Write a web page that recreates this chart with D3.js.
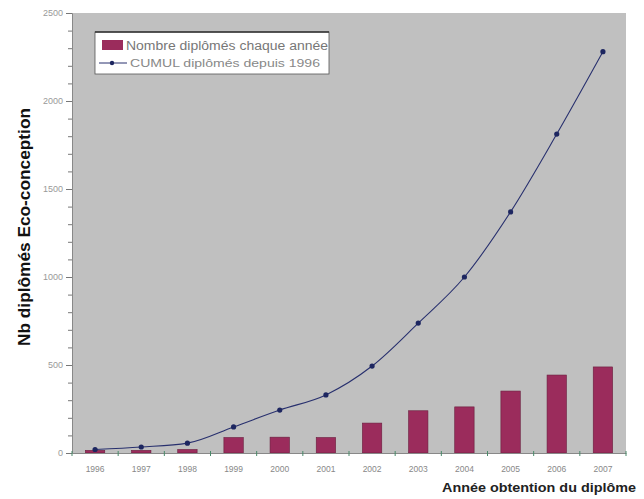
<!DOCTYPE html>
<html><head><meta charset="utf-8">
<script src="https://cdn.jsdelivr.net/npm/d3@7"></script>
<style>body{margin:0;background:#fff;}svg{display:block;font-family:Arial,"Liberation Sans",sans-serif;}</style>
</head><body><svg id="c" width="644" height="499"></svg>
<script>
const years = ["1996","1997","1998","1999","2000","2001","2002","2003","2004","2005","2006","2007"];
const perYear = [15, 15, 20, 88, 90, 88, 170, 240, 262, 352, 443, 489];
const cumul = [20, 34, 56, 148, 244, 330, 494, 738, 1000, 1370, 1812, 2280];
const yTicks = [0, 500, 1000, 1500, 2000, 2500];
const legendLabels = ["Nombre diplômés chaque année", "CUMUL diplômés depuis 1996"];
const yTitle = "Nb diplômés Eco-conception";
const xTitle = "Année obtention du diplôme";

const m = {left:72, top:13, right:626, bottom:453};
const svg = d3.select("#c");
const x = d3.scaleBand().domain(years).range([m.left, m.right]).paddingInner(0.58).paddingOuter(0.29);
const xp = d3.scalePoint().domain(years).range([m.left, m.right]).padding(0.5);
const y = d3.scaleLinear().domain([0,2500]).range([m.bottom, m.top]);

svg.append("rect").attr("x",m.left).attr("y",m.top).attr("width",m.right-m.left).attr("height",m.bottom-m.top).attr("fill","#c0c0c0");

svg.selectAll("rect.bar").data(perYear).join("rect").attr("class","bar")
  .attr("x",(d,i)=>x(years[i])).attr("width",x.bandwidth())
  .attr("y",d=>y(d)).attr("height",d=>y(0)-y(d))
  .attr("fill","#9b2c5c").attr("stroke","#6a1e3e").attr("stroke-width",0.6);

const line = d3.line().x((d,i)=>xp(years[i])).y(d=>y(d)).curve(d3.curveMonotoneX);
svg.append("path").datum(cumul).attr("d",line).attr("fill","none").attr("stroke","#28306e").attr("stroke-width",1.1);
svg.selectAll("circle.pt").data(cumul).join("circle").attr("class","pt")
  .attr("cx",(d,i)=>xp(years[i])).attr("cy",d=>y(d)).attr("r",2.6).attr("fill","#1d2660");

// Y axis
const ya = svg.append("g").attr("transform",`translate(${m.left},0)`)
  .call(d3.axisLeft(y).tickValues(d3.range(0,2501,100)).tickSize(4).tickFormat(d=> yTicks.includes(d)? d : ""));
ya.select(".domain").attr("stroke","#888");
ya.selectAll(".tick line").attr("stroke","#777");
ya.selectAll(".tick").filter(d=>yTicks.includes(d)).select("line").attr("x2",-6);
ya.selectAll("text").attr("fill","#999").attr("font-size",9).attr("x",-9);

// X axis
const xa = svg.append("g").attr("transform",`translate(0,${m.bottom})`)
  .call(d3.axisBottom(x).tickSize(0).tickPadding(13));
xa.select(".domain").attr("stroke","#888");
xa.selectAll("text").attr("fill","#888").attr("font-size",8.5);
const bounds = d3.range(years.length+1).map(i=> m.left + i*(m.right-m.left)/years.length);
svg.selectAll("line.xt").data(bounds).join("line").attr("class","xt")
  .attr("x1",d=>d).attr("x2",d=>d).attr("y1",m.bottom-2).attr("y2",m.bottom+3).attr("stroke","#4a8a6a");

// titles
svg.append("text").attr("transform",`translate(30,227) rotate(-90)`).attr("text-anchor","middle")
  .attr("font-weight","bold").attr("font-size",16).attr("fill","#111")
  .attr("textLength",238).attr("lengthAdjust","spacingAndGlyphs").text(yTitle);
svg.append("text").attr("x",636).attr("y",492).attr("text-anchor","end")
  .attr("font-weight","bold").attr("font-size",12).attr("fill","#222")
  .attr("textLength",194).attr("lengthAdjust","spacingAndGlyphs").text(xTitle);

// legend
const lg = svg.append("g");
lg.append("rect").attr("x",95).attr("y",32).attr("width",234).attr("height",42).attr("fill","#fff").attr("stroke","#555").attr("stroke-width",0.8);
lg.append("line").attr("x1",95).attr("x2",329).attr("y1",32).attr("y2",32).attr("stroke","#333").attr("stroke-width",1.5);
lg.append("rect").attr("x",102).attr("y",40).attr("width",21).attr("height",10).attr("fill","#9b2c5c");
lg.append("text").attr("x",126).attr("y",50).attr("font-size",12).attr("fill","#777")
  .attr("textLength",202).attr("lengthAdjust","spacingAndGlyphs").text(legendLabels[0]);
lg.append("line").attr("x1",99).attr("x2",127).attr("y1",63).attr("y2",63).attr("stroke","#28306e");
lg.append("circle").attr("cx",112).attr("cy",63).attr("r",2.2).attr("fill","#1d2660");
lg.append("text").attr("x",130).attr("y",67).attr("font-size",11).attr("fill","#888")
  .attr("textLength",190).attr("lengthAdjust","spacingAndGlyphs").text(legendLabels[1]);
</script></body></html>
